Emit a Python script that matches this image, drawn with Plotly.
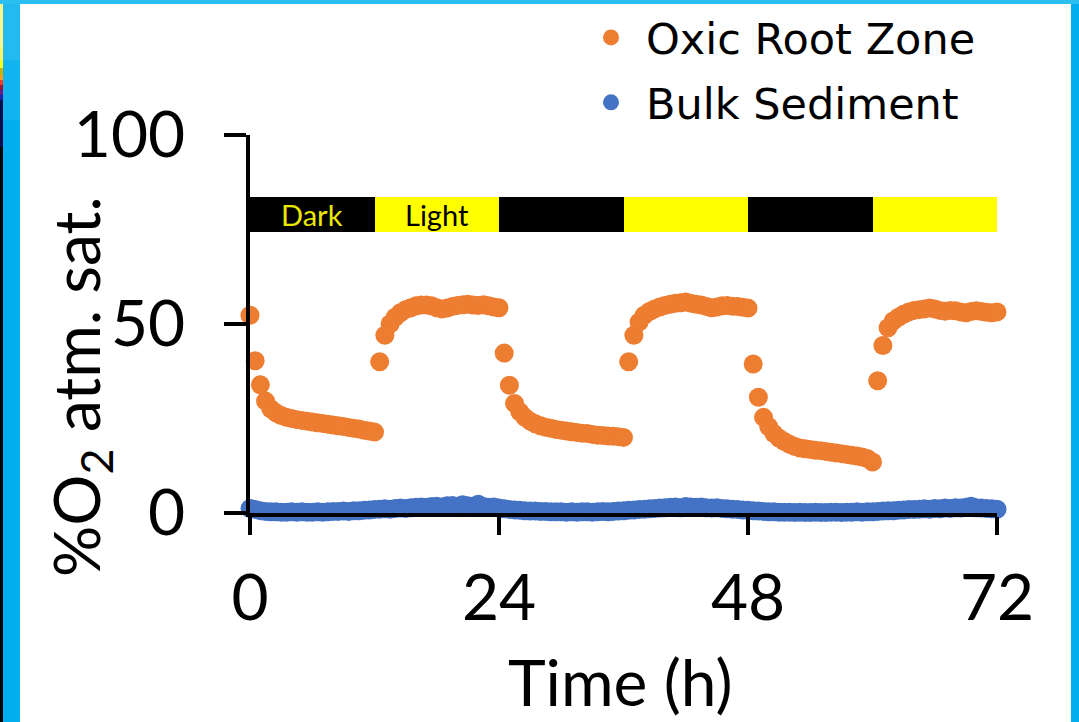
import plotly.graph_objects as go

# ---------------- data ----------------
time_h = [
    0.0, 0.5, 1.0, 1.5, 2.0, 2.5, 3.0, 3.5, 4.0, 4.5, 5.0, 5.5, 6.0, 6.5, 7.0, 7.5,
    8.0, 8.5, 9.0, 9.5, 10.0, 10.5, 11.0, 11.5, 12.0, 12.5, 13.0, 13.5, 14.0, 14.5,
    15.0, 15.5, 16.0, 16.5, 17.0, 17.5, 18.0, 18.5, 19.0, 19.5, 20.0, 20.5, 21.0,
    21.5, 22.0, 22.5, 23.0, 23.5, 24.0, 24.5, 25.0, 25.5, 26.0, 26.5, 27.0, 27.5,
    28.0, 28.5, 29.0, 29.5, 30.0, 30.5, 31.0, 31.5, 32.0, 32.5, 33.0, 33.5, 34.0,
    34.5, 35.0, 35.5, 36.0, 36.5, 37.0, 37.5, 38.0, 38.5, 39.0, 39.5, 40.0, 40.5,
    41.0, 41.5, 42.0, 42.5, 43.0, 43.5, 44.0, 44.5, 45.0, 45.5, 46.0, 46.5, 47.0,
    47.5, 48.0, 48.5, 49.0, 49.5, 50.0, 50.5, 51.0, 51.5, 52.0, 52.5, 53.0, 53.5,
    54.0, 54.5, 55.0, 55.5, 56.0, 56.5, 57.0, 57.5, 58.0, 58.5, 59.0, 59.5, 60.0,
    60.5, 61.0, 61.5, 62.0, 62.5, 63.0, 63.5, 64.0, 64.5, 65.0, 65.5, 66.0, 66.5,
    67.0, 67.5, 68.0, 68.5, 69.0, 69.5, 70.0, 70.5, 71.0, 71.5, 72.0,
]

oxic_root_zone = [
    # 0 - 12 h (dark)
    52.3, 40.3, 33.9, 29.6, 27.6, 26.5, 25.8, 25.3, 25.0, 24.7, 24.5, 24.3, 24.1,
    23.9, 23.7, 23.5, 23.3, 23.1, 22.9, 22.6, 22.4, 22.2, 21.9, 21.7, 21.4,
    # 12.5 - 24 h (light)
    40.0, 47.0, 50.0, 51.8, 53.0, 53.8, 54.3, 54.8, 55.0, 55.0, 54.8, 54.3,
    54.0, 54.2, 54.6, 54.9, 55.1, 55.2, 55.0, 54.9, 55.1, 54.8, 54.5, 54.3,
    # 24.5 - 36 h (dark)
    42.3, 33.8, 29.0, 26.8, 25.3, 24.3, 23.6, 23.1, 22.7, 22.4, 22.1, 21.9,
    21.7, 21.5, 21.3, 21.1, 21.0, 20.8, 20.6, 20.5, 20.4, 20.3, 20.2, 20.0,
    # 36.5 - 48 h (light)
    40.0, 47.0, 50.5, 52.3, 53.3, 54.0, 54.5, 54.9, 55.2, 55.5, 55.6, 55.8,
    55.5, 55.2, 55.0, 54.6, 54.3, 54.5, 54.8, 54.9, 54.7, 54.6, 54.4, 54.2,
    # 48.5 - 60 h (dark)
    39.4, 30.6, 25.3, 22.8, 21.0, 19.8, 18.9, 18.2, 17.6, 17.2, 17.0, 16.8,
    16.6, 16.5, 16.3, 16.1, 15.9, 15.7, 15.5, 15.3, 15.1, 14.8, 14.4, 13.5,
    # 60.5 - 72 h (light)
    35.0, 44.3, 49.0, 50.8, 51.8, 52.6, 53.2, 53.6, 53.8, 54.0, 54.2, 54.0,
    53.6, 53.4, 53.6, 53.5, 53.2, 53.0, 53.3, 53.5, 53.3, 53.1, 53.0, 53.2,
]

bulk_sediment = [
    1.2, 0.9, 0.6, 0.4, 0.3, 0.3, 0.2, 0.2, 0.3,
    0.2, 0.3, 0.2, 0.2, 0.3, 0.2, 0.3, 0.4,
    0.4, 0.5, 0.4, 0.6, 0.6, 0.7, 0.8, 0.9,
    1.0, 1.1, 1.0, 1.2, 1.3, 1.2, 1.4, 1.5,
    1.6, 1.5, 1.7, 1.8, 1.6, 1.9, 2.0, 1.8,
    2.2, 1.9, 1.8, 2.3, 1.7, 1.5, 1.6, 1.3,
    1.1, 0.9, 0.8, 0.7, 0.6, 0.5, 0.5, 0.4,
    0.4, 0.3, 0.3, 0.3, 0.2, 0.3, 0.2, 0.3,
    0.3, 0.2, 0.3, 0.4, 0.3, 0.4, 0.5, 0.6,
    0.7, 0.8, 0.9, 1.0, 1.1, 1.2, 1.3, 1.4,
    1.5, 1.6, 1.4, 1.7, 1.6, 1.5, 1.6, 1.4,
    1.3, 1.4, 1.2, 1.1, 1.0, 0.9, 0.8, 0.7,
    0.6, 0.5, 0.4, 0.3, 0.3, 0.2, 0.2, 0.2,
    0.1, 0.2, 0.1, 0.1, 0.2, 0.1, 0.1, 0.2,
    0.2, 0.1, 0.2, 0.2, 0.3, 0.2, 0.3, 0.3,
    0.4, 0.5, 0.6, 0.6, 0.7, 0.8, 0.9, 0.9,
    1.0, 1.1, 1.0, 1.2, 1.1, 1.3, 1.2, 1.4,
    1.3, 1.5, 1.8, 1.4, 1.3, 1.2, 1.1, 1.0,
]

# light / dark periods bar
period_mid = [6, 18, 30, 42, 54, 66]
period_len = [12, 12, 12, 12, 12, 12]
period_fill = ["#000000", "#FFFF00", "#000000", "#FFFF00", "#000000", "#FFFF00"]
period_bottom = 74.3
period_top = 83.6
label_x = [6, 18]
label_text = ["Dark", "Light"]
label_color = ["#E8E800", "#000000"]

x_ticks = [0, 24, 48, 72]
y_ticks = [0, 50, 100]

ORANGE = "#ED7D31"
BLUE = "#4472C4"
FONT = "Lato"

# ---------------- layout geometry ----------------
W, H = 1079, 722
L, R, T, B = 250, 82, 135, 209
PW, PH = W - L - R, H - T - B


def px_x(p):
    return (p - L) / PW


def px_y(p):
    return (H - B - p) / PH


fig = go.Figure()

fig.add_trace(go.Bar(
    x=period_mid,
    y=[period_top - period_bottom] * len(period_mid),
    base=period_bottom,
    width=period_len,
    marker=dict(color=period_fill, line=dict(width=0)),
    showlegend=False,
    hoverinfo="skip",
))

fig.add_trace(go.Scatter(
    x=time_h, y=oxic_root_zone, mode="markers", name="Oxic Root Zone",
    marker=dict(color=ORANGE, size=19, line=dict(width=0)),
    cliponaxis=False, legendgroup="a",
))
fig.add_trace(go.Scatter(
    x=time_h, y=bulk_sediment, mode="markers", name="Bulk Sediment",
    marker=dict(color=BLUE, size=19, line=dict(width=0)),
    cliponaxis=False, legendgroup="b",
))

# ---------------- decorations (frame) ----------------
shapes = []


def rect(x0, y0, x1, y1, color):
    shapes.append(dict(type="rect", xref="paper", yref="paper",
                       x0=px_x(x0), x1=px_x(x1), y0=px_y(y1), y1=px_y(y0),
                       fillcolor=color, line=dict(width=0), layer="below"))


rect(20, 4, 1071, 722, "#FFFFFF")
rect(0, 0, 1079, 4, "#2BBEF1")
rect(3, 4, 20, 60, "#22BAF0")
rect(3, 60, 20, 120, "#12B4EF")
strip = [
    (4, 47, "#FFF58C"), (47, 60, "#FFF566"), (60, 68, "#FFFF22"),
    (68, 75, "#C8B400"), (75, 80, "#FF9A1A"), (80, 85, "#F04020"),
    (85, 90, "#A01030"), (90, 95, "#6A1A8A"), (95, 100, "#2020A0"),
    (100, 147, "#0A0A50"), (147, 722, "#000000"),
]
for y0, y1, c in strip:
    rect(0, y0, 3, y1, c)

annotations = [
    dict(text="%O<sub>2</sub> atm. sat.", xref="paper", yref="paper",
         x=px_x(80), y=px_y(387), xanchor="center", yanchor="middle",
         textangle=-90, showarrow=False,
         font=dict(family=FONT, size=64, color="#000000")),
    dict(text="Time (h)", xref="paper", yref="paper",
         x=px_x(620), y=px_y(681), xanchor="center", yanchor="middle",
         showarrow=False, font=dict(family=FONT, size=64, color="#000000")),
]
for lx, lt, lc in zip(label_x, label_text, label_color):
    annotations.append(dict(
        text=lt, x=lx, y=(period_bottom + period_top) / 2, xref="x", yref="y",
        xanchor="center", yanchor="middle", showarrow=False,
        font=dict(family=FONT, size=29, color=lc)))

fig.update_layout(
    width=W, height=H,
    margin=dict(l=L, r=R, t=T, b=B, pad=0, autoexpand=False),
    paper_bgcolor="#03AEEE",
    plot_bgcolor="#FFFFFF",
    shapes=shapes,
    annotations=annotations,
    bargap=0,
    showlegend=True,
    legend=dict(
        x=px_x(576), y=px_y(3), xanchor="left", yanchor="top",
        bgcolor="rgba(0,0,0,0)", borderwidth=0,
        font=dict(family="DejaVu Sans", size=43, color="#000000"),
        itemwidth=60, tracegroupgap=6, traceorder="grouped",
    ),
    xaxis=dict(
        range=[0, 72], tickvals=x_ticks, ticktext=[str(v) for v in x_ticks],
        ticks="outside", ticklen=18, tickwidth=4, tickcolor="#000000",
        showline=True, linewidth=4, linecolor="#000000",
        showgrid=False, zeroline=False, ticklabelstandoff=8,
        tickfont=dict(family=FONT, size=64, color="#000000"),
    ),
    yaxis=dict(
        range=[0, 100], tickvals=y_ticks, ticktext=[str(v) for v in y_ticks],
        ticks="outside", ticklen=22, tickwidth=4, tickcolor="#000000",
        showline=True, linewidth=4, linecolor="#000000",
        showgrid=False, zeroline=False, ticklabelstandoff=26,
        tickfont=dict(family=FONT, size=64, color="#000000"),
    ),
)

fig.write_html("out.html")
